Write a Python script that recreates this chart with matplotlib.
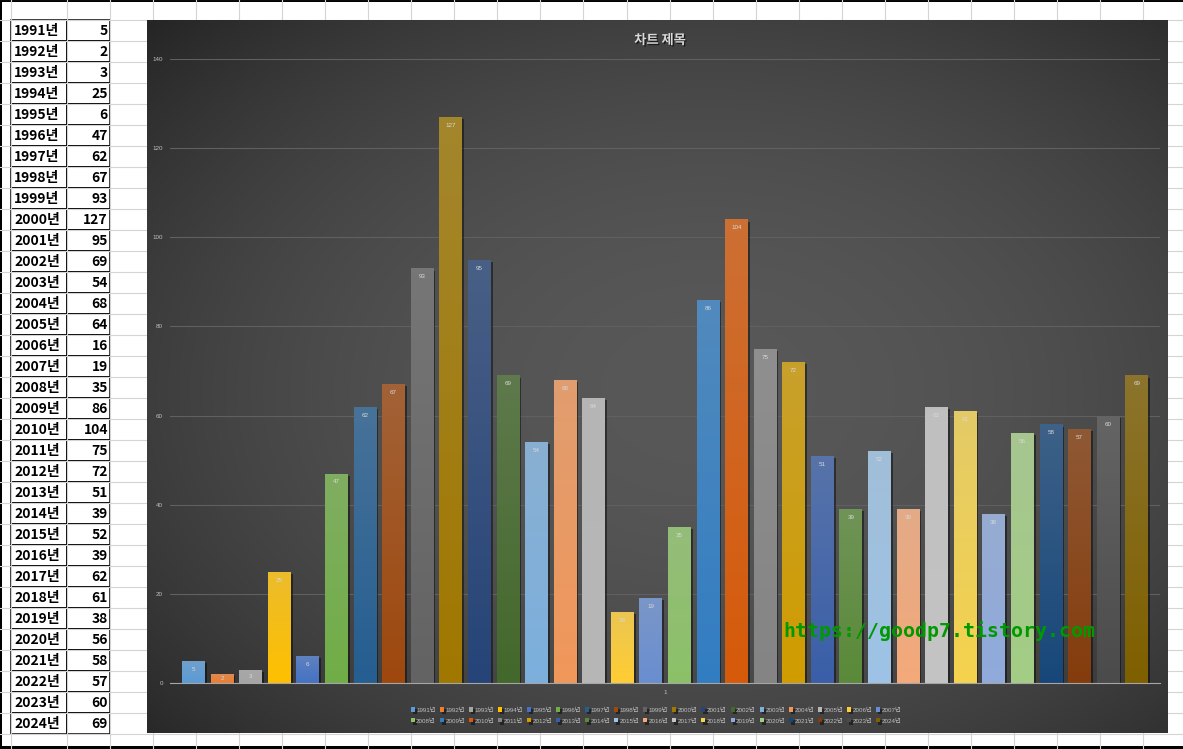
import matplotlib
matplotlib.use('Agg')
import matplotlib.pyplot as plt
import matplotlib.patheffects as pe
from matplotlib.patches import Rectangle
from matplotlib.colors import to_rgb
import numpy as np

# =============================== 데이터 ===================================
years = ['1991년', '1992년', '1993년', '1994년', '1995년', '1996년', '1997년',
         '1998년', '1999년', '2000년', '2001년', '2002년', '2003년', '2004년',
         '2005년', '2006년', '2007년', '2008년', '2009년', '2010년', '2011년',
         '2012년', '2013년', '2014년', '2015년', '2016년', '2017년', '2018년',
         '2019년', '2020년', '2021년', '2022년', '2023년', '2024년']
counts = [5, 2, 3, 25, 6, 47, 62, 67, 93, 127, 95, 69, 54, 68, 64, 16, 19,
          35, 86, 104, 75, 72, 51, 39, 52, 39, 62, 61, 38, 56, 58, 57, 60, 69]
bar_colors = ['#5B9BD5', '#ED7D31', '#A5A5A5', '#FFC000', '#4472C4', '#70AD47',
              '#255E91', '#9E480E', '#636363', '#A07800', '#264478', '#43682B',
              '#7CAFDD', '#F1975A', '#B7B7B7', '#FFCD33', '#698ED0', '#8CC168',
              '#327DC2', '#D65A0A', '#848484', '#D09C00', '#3A5FA8', '#5A8A39',
              '#9DC3E6', '#F4A97A', '#C4C4C4', '#F5D34E', '#8FAADC', '#A3CD85',
              '#17477A', '#843C0C', '#4B4B4B', '#7F6000']
chart_title = '차트 제목'
category_label = '1'
y_ticks = [0, 20, 40, 60, 80, 100, 120, 140]
watermark = 'https://goodp7.tistory.com'

W, H = 1183, 749
KR = ['Noto Sans CJK KR', 'DejaVu Sans']
SMALL = ['Liberation Sans', 'Noto Sans CJK KR']


def main():
    fig = plt.figure(figsize=(W / 100, H / 100), dpi=100)
    fig.patch.set_facecolor('white')

    # =============================== 엑셀 시트 ===============================
    sheet = fig.add_axes([0, 0, 1, 1], zorder=0)
    sheet.set_xlim(0, W)
    sheet.set_ylim(H, 0)
    sheet.axis('off')
    col_lines = [11, 67] + [67 + 43.04 * k for k in range(1, 27)]
    for x in col_lines:
        sheet.plot([x, x], [0, H], color='#d4d4d4', lw=0.8)
    for k in range(-1, 37):
        y = 20 + 21 * k
        sheet.plot([0, W], [y, y], color='#d4d4d4', lw=0.8)

    for i, (yr, c) in enumerate(zip(years, counts)):
        top = 20 + 21 * i
        sheet.add_patch(Rectangle((11, top), 56, 21, fill=False, ec='black', lw=1.1))
        sheet.add_patch(Rectangle((67, top), 43, 21, fill=False, ec='black', lw=1.1))
        sheet.text(14, top + 11, yr, ha='left', va='center', fontsize=10,
                   weight='bold', family=KR)
        sheet.text(108, top + 11, str(c), ha='right', va='center', fontsize=10,
                   weight='bold', family=KR)

    sheet.add_patch(Rectangle((0, 0), 2.5, H, color='black', lw=0))
    sheet.add_patch(Rectangle((0, 0), W, 2, color='black', lw=0))
    sheet.add_patch(Rectangle((0, 745.5), W, 4, color='black', lw=0))

    # =============================== 차트 배경 ===============================
    bg = fig.add_axes([147 / W, 1 - 733 / H, (1168 - 147) / W, (733 - 20) / H], zorder=1)
    gx, gy = np.meshgrid(np.linspace(0, 1, 400), np.linspace(0, 1, 300))
    r2 = ((gx - 0.55) ** 2 + (gy - 0.52) ** 2) / 0.75 ** 2
    shade = np.clip(88 - 50 * r2, 36, 88) / 255.0
    bg.imshow(np.dstack([shade, shade, shade]), extent=[0, 1, 0, 1],
              aspect='auto', origin='upper')
    bg.axis('off')

    # =============================== 막대 그래프 =============================
    ax = fig.add_axes([170 / W, 1 - 683 / H, 990 / W, 624 / H], zorder=2)
    ax.patch.set_alpha(0)
    handles = []
    for i, (yr, c, col) in enumerate(zip(years, counts, bar_colors)):
        bars = ax.bar(i, c, width=0.79, color=col, label=yr, zorder=3,
                      path_effects=[pe.SimplePatchShadow(offset=(1.5, -1.5),
                                                         shadow_rgbFace='black',
                                                         alpha=0.45),
                                    pe.Normal()])
        handles.append(bars)
        p = bars[0]
        base = np.array(to_rgb(col))
        top_col = base * 0.75 + np.array([0.69, 0.69, 0.69]) * 0.25
        t = np.linspace(0, 1, 64)[:, None]
        grad = (top_col * (1 - t) + base * t)[:, None, :]
        im = ax.imshow(grad, extent=[p.get_x(), p.get_x() + p.get_width(), 0, c],
                       aspect='auto', origin='upper', zorder=3.5)
        im.set_clip_path(p)
        ax.text(i, c - min(1.9, c / 2), str(c), ha='center', va='center',
                fontsize=4.5, color='#d9d9d9', family=SMALL, zorder=5)

    ax.set_xlim(-0.82, len(counts) - 1 + 0.82)
    ax.set_ylim(0, 140)
    ax.set_aspect('auto')
    ax.set_yticks(y_ticks)
    ax.set_yticklabels([str(v) for v in y_ticks], fontsize=4.5, color='#bfbfbf',
                       family=SMALL)
    ax.set_xticks([(len(counts) - 1) / 2])
    ax.set_xticklabels([category_label], fontsize=4.5, color='#bfbfbf', family=SMALL)
    ax.tick_params(length=0, axis='y', pad=5)
    ax.tick_params(length=0, axis='x', pad=5)
    ax.grid(axis='y', color='#606060', lw=0.8)
    ax.set_axisbelow(True)
    for s in ['top', 'right', 'left']:
        ax.spines[s].set_visible(False)
    ax.spines['bottom'].set_color('#a6a6a6')
    ax.spines['bottom'].set_linewidth(0.8)
    ax.spines['bottom'].set_zorder(4)

    # 범례: 두 줄, 가로 순서
    n = len(handles)
    half = n // 2
    order = []
    for k in range(half):
        order += [k, k + half]
    leg = ax.legend([handles[k] for k in order], [years[k] for k in order],
                    ncol=half, loc='center',
                    bbox_to_anchor=(656 / W, 1 - 715.5 / H),
                    bbox_transform=fig.transFigure, frameon=False,
                    prop={'family': SMALL, 'size': 4.5},
                    handlelength=0.65, handleheight=0.65, handletextpad=0.25,
                    columnspacing=0.6, labelspacing=0.9, borderpad=0)
    for txt in leg.get_texts():
        txt.set_color('#bfbfbf')

    # 제목
    fig.text(660 / W, 1 - 40 / H, chart_title, ha='center', va='center',
             fontsize=9.5, weight='bold', color='#d9d9d9', family=KR, zorder=5,
             path_effects=[pe.SimplePatchShadow(offset=(1, -1), shadow_rgbFace='black',
                                                alpha=0.6), pe.Normal()])

    # 워터마크
    fig.text(939 / W, 1 - 631 / H, watermark, ha='center', va='center',
             fontsize=14.3, weight='bold', color='#009a00',
             family='DejaVu Sans Mono', zorder=6)

    fig.savefig('out.png', dpi=100)


if __name__ == '__main__':
    main()
